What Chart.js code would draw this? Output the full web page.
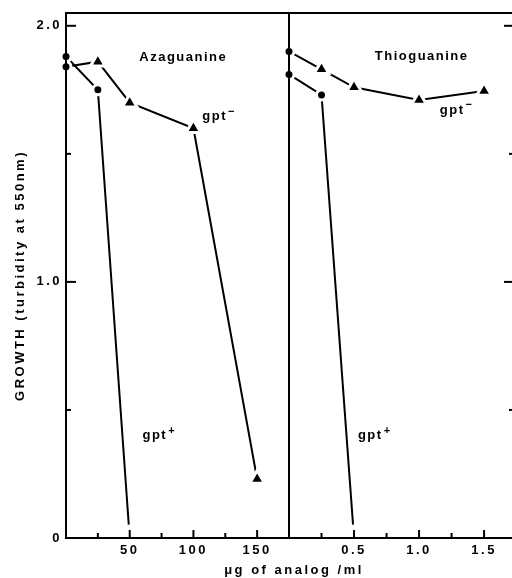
<!DOCTYPE html>
<html>
<head>
<meta charset="utf-8">
<script src="https://cdn.jsdelivr.net/npm/chart.js@4.4.0/dist/chart.umd.min.js"></script>
<style>
  html, body { margin: 0; padding: 0; background: #fff; overflow: hidden; }
  #growthChart { display: block; }
</style>
</head>
<body>
<canvas id="growthChart" width="520" height="578"></canvas>
<script>
/* growth of gpt+ / gpt- cells vs. analog dose */

// Azaguanine panel (ug/ml)
const azaDose = [0, 25, 50, 100, 150];
const azaMinus = [1.84, 1.86, 1.70, 1.60, 0.23];
const azaPlusDose = [0, 25, 50];
const azaPlus = [1.88, 1.75, 0];

// Thioguanine panel (ug/ml)
const thioDose = [0, 0.25, 0.5, 1.0, 1.5];
const thioMinus = [1.90, 1.83, 1.76, 1.71, 1.745];
const thioPlusDose = [0, 0.25, 0.5];
const thioPlus = [1.81, 1.73, 0];

// ticks
const yTicks = [0, 0.5, 1.0, 1.5, 2.0];
const yLabels = ['0', '', '1.0', '', '2.0'];
const azaTicks = [25, 50, 75, 100, 125, 150];
const azaLabels = ['', '50', '', '100', '', '150'];
const thioTicks = [0.25, 0.5, 0.75, 1.0, 1.25, 1.5];
const thioLabels = ['', '0.5', '', '1.0', '', '1.5'];

const yTitle = 'GROWTH (turbidity at 550nm)';
const xTitle = '\u03bcg of analog /ml';

// text inside the plot (data coordinates)
const notes = [
  { text: 'Azaguanine', axis: 'xa', x: 92, y: 1.875, align: 'center' },
  { text: 'gpt', sup: '\u2212', axis: 'xa', x: 107, y: 1.645, align: 'left' },
  { text: 'gpt', sup: '+', axis: 'xa', x: 60, y: 0.40, align: 'left' },
  { text: 'Thioguanine', axis: 'xb', x: 1.02, y: 1.88, align: 'center' },
  { text: 'gpt', sup: '\u2212', axis: 'xb', x: 1.16, y: 1.67, align: 'left' },
  { text: 'gpt', sup: '+', axis: 'xb', x: 0.53, y: 0.40, align: 'left' }
];

const FONT = "'Liberation Sans', Arial, sans-serif";
Chart.defaults.font.family = FONT;
Chart.defaults.font.weight = 'bold';
Chart.defaults.font.size = 13;
Chart.defaults.color = '#000';

const pts = (xs, ys) => xs.map((x, i) => ({ x: x, y: ys[i] }));

function series(axis, xs, ys, styles, radii, fills) {
  return {
    xAxisID: axis,
    yAxisID: 'y',
    data: pts(xs, ys),
    borderColor: '#000',
    borderWidth: 2,
    tension: 0,
    fill: false,
    pointStyle: styles,
    pointRadius: radii,
    pointHoverRadius: radii,
    pointBackgroundColor: fills,
    pointBorderColor: '#fff',
    pointBorderWidth: 3,
    clip: { left: 10, top: 10, right: 10, bottom: 0 }
  };
}

const tri = ['circle', 'triangle', 'triangle', 'triangle', 'triangle'];
const triR = [5, 8.5, 8.5, 8.5, 8.5];
const black5 = ['#000', '#000', '#000', '#000', '#000'];

// x scales: no extra side padding so the two panels keep their widths
function fitX(s) {
  s.height = 40;
  s.paddingLeft = 0;
  s.paddingRight = 0;
}

// inward ticks, frame, divider and in-plot text
const framePlugin = {
  id: 'frame',
  beforeDraw(chart) {
    chart.ctx.letterSpacing = '2.5px';
  },
  afterDatasetsDraw(chart) {
    const { ctx, chartArea: a, scales } = chart;
    const line = (x1, y1, x2, y2) => {
      ctx.beginPath(); ctx.moveTo(x1, y1); ctx.lineTo(x2, y2); ctx.stroke();
    };
    ctx.save();
    ctx.strokeStyle = '#000';
    ctx.lineWidth = 2;
    ctx.strokeRect(a.left, a.top, a.right - a.left, a.bottom - a.top);
    line(scales.xb.left, a.top, scales.xb.left, a.bottom);

    [[scales.xa, azaLabels], [scales.xb, thioLabels]].forEach(([sc, labels]) => {
      sc.ticks.forEach((t, i) => {
        const px = sc.getPixelForValue(t.value);
        line(px, a.bottom, px, a.bottom - (labels[i] ? 8 : 5));
      });
    });
    scales.y.ticks.forEach((t) => {
      const py = scales.y.getPixelForValue(t.value);
      const len = Number.isInteger(t.value) ? 10 : 5;
      line(a.left, py, a.left + len, py);
      line(a.right, py, a.right - len, py);
    });
    ctx.restore();
  },
  afterDraw(chart) {
    const { ctx, scales } = chart;
    ctx.save();
    ctx.fillStyle = '#000';
    ctx.textBaseline = 'middle';
    notes.forEach((n) => {
      const px = scales[n.axis].getPixelForValue(n.x);
      const py = scales.y.getPixelForValue(n.y);
      ctx.font = 'bold 13px ' + FONT;
      ctx.letterSpacing = '1.5px';
      ctx.textAlign = n.align;
      ctx.fillText(n.text, px, py);
      if (n.sup) {
        const w = ctx.measureText(n.text).width;
        ctx.font = 'bold 11px ' + FONT;
        ctx.textAlign = 'left';
        ctx.fillText(n.sup, px + w + 1, py - 5);
      }
    });
    ctx.font = 'bold 13px ' + FONT;
    ctx.letterSpacing = '2.5px';
    ctx.textAlign = 'center';
    ctx.fillText(xTitle, scales.xb.left + 5, chart.height - 8);
    ctx.restore();
  }
};

const ctx = document.getElementById('growthChart').getContext('2d');
const growthChart = new Chart(ctx, {
  type: 'line',
  data: {
    datasets: [
      series('xa', azaDose, azaMinus, tri, triR, black5),
      series('xa', azaPlusDose, azaPlus, 'circle', [5, 5, 12], ['#000', '#000', '#fff']),
      series('xb', thioDose, thioMinus, tri, triR, black5),
      series('xb', thioPlusDose, thioPlus, 'circle', [5, 5, 12], ['#000', '#000', '#fff'])
    ]
  },
  options: {
    responsive: false,
    animation: false,
    events: [],
    layout: { autoPadding: false, padding: { left: 0, top: 13, right: 6, bottom: 0 } },
    plugins: { legend: { display: false }, tooltip: { enabled: false } },
    scales: {
      xa: {
        type: 'linear', position: 'bottom', stack: 'dose', stackWeight: 223,
        min: 0, max: 175,
        grid: { display: false, drawTicks: false },
        border: { display: false },
        afterBuildTicks: (s) => { s.ticks = azaTicks.map((v) => ({ value: v })); },
        afterFit: fitX,
        ticks: { padding: 5, maxRotation: 0, autoSkip: false, callback: (v, i) => azaLabels[i] }
      },
      xb: {
        type: 'linear', position: 'bottom', stack: 'dose', stackWeight: 225,
        min: 0, max: 1.73,
        grid: { display: false, drawTicks: false },
        border: { display: false },
        afterBuildTicks: (s) => { s.ticks = thioTicks.map((v) => ({ value: v })); },
        afterFit: fitX,
        ticks: { padding: 5, maxRotation: 0, autoSkip: false, callback: (v, i) => thioLabels[i] }
      },
      y: {
        type: 'linear', position: 'left',
        min: 0, max: 2.05,
        grid: { display: false, drawTicks: false },
        border: { display: false },
        afterBuildTicks: (s) => { s.ticks = yTicks.map((v) => ({ value: v })); },
        afterFit: (s) => { s.width = 66; },
        ticks: { padding: 4, autoSkip: false, callback: (v, i) => yLabels[i] },
        title: { display: true, text: yTitle, padding: { top: 13, bottom: 0 } }
      }
    }
  },
  plugins: [framePlugin]
});
</script>
</body>
</html>
